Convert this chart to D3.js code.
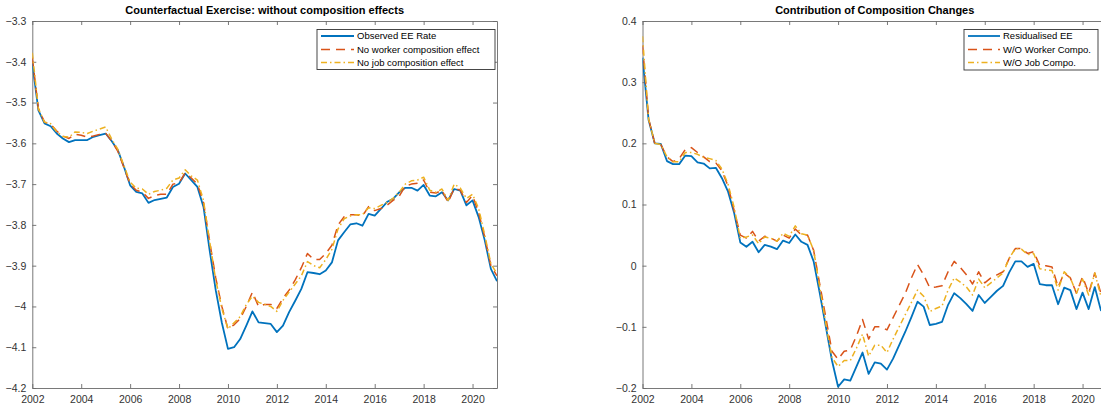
<!DOCTYPE html>
<html><head><meta charset="utf-8">
<script src="https://cdn.jsdelivr.net/npm/d3@7"></script>
<style>
body{margin:0;background:#fff;}
svg{display:block;font-family:"Liberation Sans",Arial,Helvetica,sans-serif;}
</style></head>
<body><svg id="c" width="1101" height="409"></svg>
<script>
// quarterly dates 2002Q1 .. 2021Q1
const quarters = d3.range(0, 77).map(i => 2002 + i * 0.25);
const xTicks = [2002, 2004, 2006, 2008, 2010, 2012, 2014, 2016, 2018, 2020];

// Left panel
const leftTitle = "Counterfactual Exercise: without composition effects";
const leftNames = ["Observed EE Rate", "No worker composition effect", "No job composition effect"];
const leftYTicks = [-3.3, -3.4, -3.5, -3.6, -3.7, -3.8, -3.9, -4.0, -4.1, -4.2];
const observedEE = [
 -3.404,-3.519,-3.551,-3.558,-3.576,-3.588,-3.597,-3.592,-3.592,-3.592,-3.584,-3.580,-3.576,-3.595,-3.617,-3.658,
 -3.703,-3.719,-3.723,-3.746,-3.739,-3.736,-3.733,-3.707,-3.699,-3.674,-3.690,-3.707,-3.756,-3.862,-3.960,-4.040,
 -4.104,-4.100,-4.080,-4.047,-4.012,-4.039,-4.041,-4.043,-4.063,-4.047,-4.014,-3.986,-3.957,-3.916,-3.918,-3.921,
 -3.912,-3.892,-3.838,-3.818,-3.799,-3.796,-3.802,-3.773,-3.777,-3.761,-3.744,-3.736,-3.720,-3.709,-3.709,-3.716,
 -3.702,-3.728,-3.730,-3.720,-3.740,-3.712,-3.716,-3.752,-3.740,-3.781,-3.838,-3.908,-3.938];
const noWorkerComp = [
 -3.390,-3.515,-3.548,-3.553,-3.570,-3.582,-3.588,-3.578,-3.580,-3.585,-3.582,-3.578,-3.575,-3.595,-3.620,-3.660,
 -3.700,-3.715,-3.720,-3.735,-3.728,-3.725,-3.725,-3.700,-3.697,-3.672,-3.685,-3.700,-3.745,-3.840,-3.930,-4.000,
 -4.055,-4.045,-4.030,-4.000,-3.965,-4.000,-3.995,-3.995,-4.005,-3.980,-3.960,-3.935,-3.905,-3.870,-3.885,-3.885,
 -3.870,-3.850,-3.800,-3.780,-3.775,-3.775,-3.778,-3.755,-3.765,-3.760,-3.752,-3.740,-3.730,-3.705,-3.700,-3.698,
 -3.690,-3.720,-3.722,-3.715,-3.745,-3.710,-3.715,-3.745,-3.728,-3.770,-3.830,-3.900,-3.925];
const noJobComp = [
 -3.378,-3.515,-3.548,-3.552,-3.572,-3.583,-3.585,-3.572,-3.573,-3.576,-3.570,-3.565,-3.560,-3.590,-3.615,-3.655,
 -3.695,-3.710,-3.712,-3.725,-3.718,-3.715,-3.710,-3.690,-3.685,-3.665,-3.680,-3.690,-3.740,-3.840,-3.935,-4.005,
 -4.055,-4.040,-4.025,-3.995,-3.975,-3.990,-3.995,-4.000,-4.012,-3.985,-3.965,-3.945,-3.925,-3.890,-3.900,-3.905,
 -3.885,-3.860,-3.810,-3.785,-3.778,-3.775,-3.775,-3.758,-3.760,-3.752,-3.745,-3.735,-3.720,-3.700,-3.692,-3.690,
 -3.683,-3.715,-3.720,-3.712,-3.740,-3.700,-3.710,-3.735,-3.725,-3.760,-3.825,-3.895,-3.920];

// Right panel
const rightTitle = "Contribution of Composition Changes";
const rightNames = ["Residualised EE", "W/O Worker Compo.", "W/O Job Compo."];
const rightYTicks = [0.4, 0.3, 0.2, 0.1, 0, -0.1, -0.2];
const residEE = [
 0.340,0.238,0.200,0.199,0.171,0.166,0.166,0.180,0.179,0.169,0.167,0.159,0.160,0.143,0.121,0.086,
 0.038,0.031,0.039,0.022,0.034,0.031,0.027,0.041,0.037,0.051,0.039,0.034,0.007,-0.045,-0.100,-0.155,
 -0.198,-0.186,-0.188,-0.165,-0.142,-0.177,-0.158,-0.160,-0.170,-0.152,-0.130,-0.108,-0.084,-0.059,-0.067,-0.097,
 -0.095,-0.092,-0.064,-0.045,-0.053,-0.063,-0.074,-0.048,-0.061,-0.051,-0.041,-0.033,-0.011,0.007,0.007,-0.002,
 0.003,-0.030,-0.032,-0.032,-0.063,-0.036,-0.040,-0.071,-0.044,-0.071,-0.035,-0.073,-0.060];
const woWorker = [
 0.360,0.240,0.200,0.198,0.178,0.170,0.175,0.190,0.193,0.185,0.178,0.170,0.168,0.155,0.130,0.090,
 0.050,0.045,0.056,0.040,0.048,0.045,0.040,0.050,0.045,0.060,0.050,0.050,0.025,-0.030,-0.085,-0.140,
 -0.153,-0.140,-0.138,-0.115,-0.088,-0.120,-0.100,-0.100,-0.105,-0.085,-0.065,-0.045,-0.020,0.002,-0.015,-0.036,
 -0.035,-0.033,-0.010,0.007,-0.003,-0.015,-0.030,-0.010,-0.028,-0.020,-0.015,-0.010,0.012,0.028,0.028,0.020,
 0.023,0.000,0.000,-0.002,-0.035,-0.012,-0.020,-0.045,-0.018,-0.045,-0.012,-0.045,-0.030];
const woJob = [
 0.375,0.240,0.200,0.198,0.178,0.170,0.170,0.185,0.185,0.182,0.177,0.175,0.172,0.158,0.133,0.095,
 0.045,0.047,0.050,0.036,0.047,0.045,0.040,0.053,0.048,0.065,0.052,0.050,0.025,-0.035,-0.095,-0.150,
 -0.165,-0.155,-0.155,-0.135,-0.112,-0.148,-0.130,-0.130,-0.142,-0.120,-0.100,-0.080,-0.060,-0.040,-0.050,-0.075,
 -0.070,-0.066,-0.040,-0.020,-0.027,-0.035,-0.048,-0.022,-0.036,-0.028,-0.020,-0.012,0.012,0.028,0.027,0.018,
 0.020,-0.005,-0.007,-0.008,-0.040,-0.010,-0.020,-0.045,-0.022,-0.048,-0.012,-0.050,-0.040];

const colors = ["#0072BD", "#D95319", "#EDB120"];
const dashes = [null, "9,6", "6,3,1.5,3"];
const widths = [1.8, 1.5, 1.5];

const svg = d3.select("#c");
const axisCol = "#6a6a6a";
const textCol = "#333";

function panel(id, x0, x1, yDom, yTicks, yFmt, series, names, title, legendBox) {
  const top = 21, bottom = 388;
  const x = d3.scaleLinear().domain([2002, 2021]).range([x0, x1]);
  const y = d3.scaleLinear().domain(yDom).range([bottom, top]);
  const g = svg.append("g");
  g.append("clipPath").attr("id", "clip" + id).append("rect")
    .attr("x", x0).attr("y", top).attr("width", x1 - x0).attr("height", bottom - top);

  // axes (inward ticks, box on)
  const ax = g.append("g").attr("transform", `translate(0,${bottom})`)
    .call(d3.axisBottom(x).tickValues(xTicks).tickFormat(d3.format("d")).tickSizeInner(-4).tickSizeOuter(0).tickPadding(8));
  const axT = g.append("g").attr("transform", `translate(0,${top})`)
    .call(d3.axisTop(x).tickValues(xTicks).tickFormat("").tickSizeInner(-4).tickSizeOuter(0));
  const ay = g.append("g").attr("transform", `translate(${x0},0)`)
    .call(d3.axisLeft(y).tickValues(yTicks).tickFormat(yFmt).tickSizeInner(-4).tickSizeOuter(0).tickPadding(6));
  const ayR = g.append("g").attr("transform", `translate(${x1},0)`)
    .call(d3.axisRight(y).tickValues(yTicks).tickFormat("").tickSizeInner(-4).tickSizeOuter(0));
  [ax, axT, ay, ayR].forEach(a => {
    a.selectAll("path").attr("stroke", axisCol).attr("stroke-width", 0.9);
    a.selectAll("line").attr("stroke", axisCol).attr("stroke-width", 0.9);
    a.selectAll("text").attr("fill", textCol).style("font-size", "10.5px").style("font-family", '"Liberation Sans",Arial,sans-serif');
  });

  const line = d3.line().x((d, i) => x(quarters[i])).y(d => y(d));
  const lg = g.append("g").attr("clip-path", `url(#clip${id})`);
  series.forEach((s, k) => {
    lg.append("path").datum(s).attr("d", line).attr("fill", "none")
      .attr("stroke", colors[k]).attr("stroke-width", widths[k])
      .attr("stroke-dasharray", dashes[k]).attr("stroke-linejoin", "round");
  });

  // title
  g.append("text").attr("x", (x0 + x1) / 2).attr("y", 14).attr("text-anchor", "middle")
    .attr("font-weight", "bold").attr("font-size", "11px").attr("fill", "#000").text(title);

  // legend
  const [bx0, by0, bx1, by1, lx0, lx1] = legendBox;
  g.append("rect").attr("x", bx0).attr("y", by0).attr("width", bx1 - bx0).attr("height", by1 - by0)
    .attr("fill", "#fff").attr("stroke", "#333").attr("stroke-width", 0.9);
  const rowY = [by0 + 6.5, by0 + 20, by0 + 33];
  names.forEach((n, k) => {
    g.append("line").attr("x1", lx0).attr("x2", lx1).attr("y1", rowY[k]).attr("y2", rowY[k])
      .attr("stroke", colors[k]).attr("stroke-width", widths[k]).attr("stroke-dasharray", dashes[k]);
    g.append("text").attr("x", lx1 + 3).attr("y", rowY[k]).attr("dy", "0.35em")
      .attr("font-size", "9.5px").attr("fill", "#000").text(n);
  });
}

const fmt1 = d => d3.format("")(Math.round(d * 10) / 10);
panel("L", 32.3, 497, [-4.2, -3.3], leftYTicks, fmt1,
  [observedEE, noWorkerComp, noJobComp], leftNames, leftTitle, [317, 29.5, 495, 69.5, 321, 354]);
panel("R", 642.5, 1107, [-0.2, 0.4], rightYTicks, fmt1,
  [residEE, woWorker, woJob], rightNames, rightTitle, [964, 29.5, 1098, 70, 968, 1000]);
</script>
</body></html>
